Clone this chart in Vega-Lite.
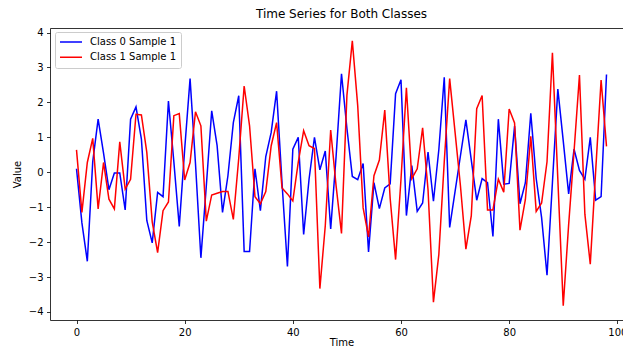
{
  "$schema": "https://vega.github.io/schema/vega-lite/v6.json",
  "width": 573,
  "height": 292,
  "autosize": {"type": "none"},
  "padding": {"left": 50, "top": 28, "right": 0, "bottom": 27},
  "background": "white",
  "title": {"text": "Time Series for Both Classes", "font": "DejaVu Sans", "fontSize": 12, "fontWeight": "normal", "color": "black", "offset": 7, "dx": 5},
  "config": {
    "view": {"stroke": null},
    "axis": {"labelFont": "DejaVu Sans", "titleFont": "DejaVu Sans", "labelFontSize": 10, "titleFontSize": 10, "titleFontWeight": "normal", "labelColor": "black", "titleColor": "black", "domainColor": "black", "tickColor": "black", "domainWidth": 0.8, "tickWidth": 0.8, "grid": false, "labelOverlap": false}
  },
  "data": {"values": [
    {"series":"Class 0 Sample 1","time":0,"value":0.1},{"series":"Class 0 Sample 1","time":1,"value":-1.45},{"series":"Class 0 Sample 1","time":2,"value":-2.55},{"series":"Class 0 Sample 1","time":3,"value":0.3},{"series":"Class 0 Sample 1","time":4,"value":1.52},{"series":"Class 0 Sample 1","time":5,"value":0.55},{"series":"Class 0 Sample 1","time":6,"value":-0.5},{"series":"Class 0 Sample 1","time":7,"value":-0.02},{"series":"Class 0 Sample 1","time":8,"value":-0.02},{"series":"Class 0 Sample 1","time":9,"value":-1.08},
    {"series":"Class 0 Sample 1","time":10,"value":1.52},{"series":"Class 0 Sample 1","time":11,"value":1.87},{"series":"Class 0 Sample 1","time":12,"value":0.95},{"series":"Class 0 Sample 1","time":13,"value":-1.38},{"series":"Class 0 Sample 1","time":14,"value":-2.02},{"series":"Class 0 Sample 1","time":15,"value":-0.58},{"series":"Class 0 Sample 1","time":16,"value":-0.7},{"series":"Class 0 Sample 1","time":17,"value":2.04},{"series":"Class 0 Sample 1","time":18,"value":0.3},{"series":"Class 0 Sample 1","time":19,"value":-1.55},
    {"series":"Class 0 Sample 1","time":20,"value":0.65},{"series":"Class 0 Sample 1","time":21,"value":2.68},{"series":"Class 0 Sample 1","time":22,"value":0.25},{"series":"Class 0 Sample 1","time":23,"value":-2.45},{"series":"Class 0 Sample 1","time":24,"value":-0.4},{"series":"Class 0 Sample 1","time":25,"value":1.76},{"series":"Class 0 Sample 1","time":26,"value":0.76},{"series":"Class 0 Sample 1","time":27,"value":-1.15},{"series":"Class 0 Sample 1","time":28,"value":-0.1},{"series":"Class 0 Sample 1","time":29,"value":1.42},
    {"series":"Class 0 Sample 1","time":30,"value":2.19},{"series":"Class 0 Sample 1","time":31,"value":-2.27},{"series":"Class 0 Sample 1","time":32,"value":-2.27},{"series":"Class 0 Sample 1","time":33,"value":0.1},{"series":"Class 0 Sample 1","time":34,"value":-1.1},{"series":"Class 0 Sample 1","time":35,"value":0.45},{"series":"Class 0 Sample 1","time":36,"value":1.14},{"series":"Class 0 Sample 1","time":37,"value":2.32},{"series":"Class 0 Sample 1","time":38,"value":-0.3},{"series":"Class 0 Sample 1","time":39,"value":-2.7},
    {"series":"Class 0 Sample 1","time":40,"value":0.66},{"series":"Class 0 Sample 1","time":41,"value":1.0},{"series":"Class 0 Sample 1","time":42,"value":-1.78},{"series":"Class 0 Sample 1","time":43,"value":-0.2},{"series":"Class 0 Sample 1","time":44,"value":1.0},{"series":"Class 0 Sample 1","time":45,"value":0.07},{"series":"Class 0 Sample 1","time":46,"value":0.61},{"series":"Class 0 Sample 1","time":47,"value":-1.62},{"series":"Class 0 Sample 1","time":48,"value":0.45},{"series":"Class 0 Sample 1","time":49,"value":2.82},
    {"series":"Class 0 Sample 1","time":50,"value":1.26},{"series":"Class 0 Sample 1","time":51,"value":-0.12},{"series":"Class 0 Sample 1","time":52,"value":-0.21},{"series":"Class 0 Sample 1","time":53,"value":0.25},{"series":"Class 0 Sample 1","time":54,"value":-2.28},{"series":"Class 0 Sample 1","time":55,"value":-0.3},{"series":"Class 0 Sample 1","time":56,"value":-1.04},{"series":"Class 0 Sample 1","time":57,"value":-0.45},{"series":"Class 0 Sample 1","time":58,"value":-0.33},{"series":"Class 0 Sample 1","time":59,"value":2.25},
    {"series":"Class 0 Sample 1","time":60,"value":2.65},{"series":"Class 0 Sample 1","time":61,"value":-1.24},{"series":"Class 0 Sample 1","time":62,"value":0.19},{"series":"Class 0 Sample 1","time":63,"value":-1.12},{"series":"Class 0 Sample 1","time":64,"value":-0.88},{"series":"Class 0 Sample 1","time":65,"value":0.58},{"series":"Class 0 Sample 1","time":66,"value":-0.83},{"series":"Class 0 Sample 1","time":67,"value":0.65},{"series":"Class 0 Sample 1","time":68,"value":2.72},{"series":"Class 0 Sample 1","time":69,"value":-1.58},
    {"series":"Class 0 Sample 1","time":70,"value":-0.55},{"series":"Class 0 Sample 1","time":71,"value":0.48},{"series":"Class 0 Sample 1","time":72,"value":1.5},{"series":"Class 0 Sample 1","time":73,"value":0.35},{"series":"Class 0 Sample 1","time":74,"value":-0.8},{"series":"Class 0 Sample 1","time":75,"value":-0.18},{"series":"Class 0 Sample 1","time":76,"value":-0.3},{"series":"Class 0 Sample 1","time":77,"value":-1.84},{"series":"Class 0 Sample 1","time":78,"value":1.52},{"series":"Class 0 Sample 1","time":79,"value":-0.34},
    {"series":"Class 0 Sample 1","time":80,"value":-0.32},{"series":"Class 0 Sample 1","time":81,"value":1.32},{"series":"Class 0 Sample 1","time":82,"value":-0.9},{"series":"Class 0 Sample 1","time":83,"value":-0.3},{"series":"Class 0 Sample 1","time":84,"value":1.69},{"series":"Class 0 Sample 1","time":85,"value":-0.18},{"series":"Class 0 Sample 1","time":86,"value":-1.3},{"series":"Class 0 Sample 1","time":87,"value":-2.95},{"series":"Class 0 Sample 1","time":88,"value":-0.3},{"series":"Class 0 Sample 1","time":89,"value":2.38},
    {"series":"Class 0 Sample 1","time":90,"value":0.9},{"series":"Class 0 Sample 1","time":91,"value":-0.62},{"series":"Class 0 Sample 1","time":92,"value":0.66},{"series":"Class 0 Sample 1","time":93,"value":0.05},{"series":"Class 0 Sample 1","time":94,"value":-0.2},{"series":"Class 0 Sample 1","time":95,"value":1.0},{"series":"Class 0 Sample 1","time":96,"value":-0.8},{"series":"Class 0 Sample 1","time":97,"value":-0.7},{"series":"Class 0 Sample 1","time":98,"value":2.8},
    {"series":"Class 1 Sample 1","time":0,"value":0.64},{"series":"Class 1 Sample 1","time":1,"value":-1.15},{"series":"Class 1 Sample 1","time":2,"value":0.28},{"series":"Class 1 Sample 1","time":3,"value":0.97},{"series":"Class 1 Sample 1","time":4,"value":-1.05},{"series":"Class 1 Sample 1","time":5,"value":0.28},{"series":"Class 1 Sample 1","time":6,"value":-0.77},{"series":"Class 1 Sample 1","time":7,"value":-1.05},{"series":"Class 1 Sample 1","time":8,"value":0.87},{"series":"Class 1 Sample 1","time":9,"value":-0.48},
    {"series":"Class 1 Sample 1","time":10,"value":-0.2},{"series":"Class 1 Sample 1","time":11,"value":1.66},{"series":"Class 1 Sample 1","time":12,"value":1.64},{"series":"Class 1 Sample 1","time":13,"value":0.57},{"series":"Class 1 Sample 1","time":14,"value":-1.42},{"series":"Class 1 Sample 1","time":15,"value":-2.3},{"series":"Class 1 Sample 1","time":16,"value":-1.1},{"series":"Class 1 Sample 1","time":17,"value":-0.85},{"series":"Class 1 Sample 1","time":18,"value":1.62},{"series":"Class 1 Sample 1","time":19,"value":1.68},
    {"series":"Class 1 Sample 1","time":20,"value":-0.22},{"series":"Class 1 Sample 1","time":21,"value":0.28},{"series":"Class 1 Sample 1","time":22,"value":1.73},{"series":"Class 1 Sample 1","time":23,"value":1.33},{"series":"Class 1 Sample 1","time":24,"value":-1.4},{"series":"Class 1 Sample 1","time":25,"value":-0.65},{"series":"Class 1 Sample 1","time":26,"value":-0.6},{"series":"Class 1 Sample 1","time":27,"value":-0.55},{"series":"Class 1 Sample 1","time":28,"value":-0.55},{"series":"Class 1 Sample 1","time":29,"value":-1.35},
    {"series":"Class 1 Sample 1","time":30,"value":0.4},{"series":"Class 1 Sample 1","time":31,"value":2.47},{"series":"Class 1 Sample 1","time":32,"value":1.33},{"series":"Class 1 Sample 1","time":33,"value":-0.7},{"series":"Class 1 Sample 1","time":34,"value":-0.9},{"series":"Class 1 Sample 1","time":35,"value":-0.55},{"series":"Class 1 Sample 1","time":36,"value":0.76},{"series":"Class 1 Sample 1","time":37,"value":1.42},{"series":"Class 1 Sample 1","time":38,"value":-0.45},{"series":"Class 1 Sample 1","time":39,"value":-0.62},
    {"series":"Class 1 Sample 1","time":40,"value":-0.82},{"series":"Class 1 Sample 1","time":41,"value":0.28},{"series":"Class 1 Sample 1","time":42,"value":1.19},{"series":"Class 1 Sample 1","time":43,"value":0.76},{"series":"Class 1 Sample 1","time":44,"value":0.68},{"series":"Class 1 Sample 1","time":45,"value":-3.33},{"series":"Class 1 Sample 1","time":46,"value":-1.53},{"series":"Class 1 Sample 1","time":47,"value":1.21},{"series":"Class 1 Sample 1","time":48,"value":-0.39},{"series":"Class 1 Sample 1","time":49,"value":-1.75},
    {"series":"Class 1 Sample 1","time":50,"value":2.2},{"series":"Class 1 Sample 1","time":51,"value":3.76},{"series":"Class 1 Sample 1","time":52,"value":1.9},{"series":"Class 1 Sample 1","time":53,"value":-1.02},{"series":"Class 1 Sample 1","time":54,"value":-1.85},{"series":"Class 1 Sample 1","time":55,"value":-0.1},{"series":"Class 1 Sample 1","time":56,"value":0.35},{"series":"Class 1 Sample 1","time":57,"value":1.78},{"series":"Class 1 Sample 1","time":58,"value":-0.75},{"series":"Class 1 Sample 1","time":59,"value":-2.5},
    {"series":"Class 1 Sample 1","time":60,"value":-0.2},{"series":"Class 1 Sample 1","time":61,"value":2.42},{"series":"Class 1 Sample 1","time":62,"value":-0.18},{"series":"Class 1 Sample 1","time":63,"value":0.1},{"series":"Class 1 Sample 1","time":64,"value":1.27},{"series":"Class 1 Sample 1","time":65,"value":-0.5},{"series":"Class 1 Sample 1","time":66,"value":-3.72},{"series":"Class 1 Sample 1","time":67,"value":-2.35},{"series":"Class 1 Sample 1","time":68,"value":0.3},{"series":"Class 1 Sample 1","time":69,"value":2.68},
    {"series":"Class 1 Sample 1","time":70,"value":1.14},{"series":"Class 1 Sample 1","time":71,"value":-0.4},{"series":"Class 1 Sample 1","time":72,"value":-2.2},{"series":"Class 1 Sample 1","time":73,"value":-1.24},{"series":"Class 1 Sample 1","time":74,"value":1.82},{"series":"Class 1 Sample 1","time":75,"value":2.2},{"series":"Class 1 Sample 1","time":76,"value":-1.08},{"series":"Class 1 Sample 1","time":77,"value":-1.08},{"series":"Class 1 Sample 1","time":78,"value":-0.2},{"series":"Class 1 Sample 1","time":79,"value":-0.57},
    {"series":"Class 1 Sample 1","time":80,"value":1.81},{"series":"Class 1 Sample 1","time":81,"value":1.41},{"series":"Class 1 Sample 1","time":82,"value":-1.66},{"series":"Class 1 Sample 1","time":83,"value":-0.78},{"series":"Class 1 Sample 1","time":84,"value":1.03},{"series":"Class 1 Sample 1","time":85,"value":-1.12},{"series":"Class 1 Sample 1","time":86,"value":-0.88},{"series":"Class 1 Sample 1","time":87,"value":0.3},{"series":"Class 1 Sample 1","time":88,"value":3.42},{"series":"Class 1 Sample 1","time":89,"value":-0.2},
    {"series":"Class 1 Sample 1","time":90,"value":-3.82},{"series":"Class 1 Sample 1","time":91,"value":-1.5},{"series":"Class 1 Sample 1","time":92,"value":0.6},{"series":"Class 1 Sample 1","time":93,"value":2.78},{"series":"Class 1 Sample 1","time":94,"value":-1.2},{"series":"Class 1 Sample 1","time":95,"value":-2.63},{"series":"Class 1 Sample 1","time":96,"value":0.05},{"series":"Class 1 Sample 1","time":97,"value":2.64},{"series":"Class 1 Sample 1","time":98,"value":0.74}
  ]},
  "layer": [
    {
      "mark": {"type": "line", "strokeWidth": 1.5},
      "encoding": {
        "x": {"field": "time", "type": "quantitative", "scale": {"domain": [-4.9, 101.05], "nice": false, "zero": false},
              "axis": {"values": [0, 20, 40, 60, 80, 100], "title": "Time", "tickSize": 3.5, "labelPadding": 3.5, "titlePadding": 0, "titleX": 291.5, "labelFlush": false, "labelOverlap": false}},
        "y": {"field": "value", "type": "quantitative", "scale": {"domain": [-4.23, 4.13], "nice": false, "zero": false},
              "axis": {"values": [-4, -3, -2, -1, 0, 1, 2, 3, 4], "title": "Value", "tickSize": 3.5, "labelPadding": 3.5, "titlePadding": 6, "labelOverlap": false, "labelFlush": false}},
        "color": {"field": "series", "type": "nominal",
                  "scale": {"domain": ["Class 0 Sample 1", "Class 1 Sample 1"], "range": ["#0000ff", "#ff0000"]},
                  "legend": {"orient": "none", "legendX": 5, "legendY": 4, "title": null, "symbolType": "stroke", "symbolSize": 484, "symbolStrokeWidth": 1.5, "clipHeight": 12, "rowPadding": 3.3, "labelOffset": 7, "labelFont": "DejaVu Sans", "labelFontSize": 10, "labelColor": "black", "padding": 4, "fillColor": "rgba(255,255,255,0.8)", "strokeColor": "#cccccc", "cornerRadius": 2}}
      }
    },
    {
      "mark": {"type": "line", "strokeOpacity": 0},
      "encoding": {
        "x": {"field": "time", "type": "quantitative", "axis": {"orient": "top", "labels": false, "ticks": false, "title": null, "domain": true}},
        "y": {"field": "value", "type": "quantitative",
              "axis": {"values": [-4, -3, -2, -1, 0, 1, 2, 3, 4], "title": "Value", "tickSize": 3.5, "labelPadding": 3.5, "titlePadding": 6, "labelOverlap": false, "labelFlush": false}},
        "detail": {"field": "series"}
      }
    }
  ],
  "resolve": {"axis": {"x": "independent"}}
}
